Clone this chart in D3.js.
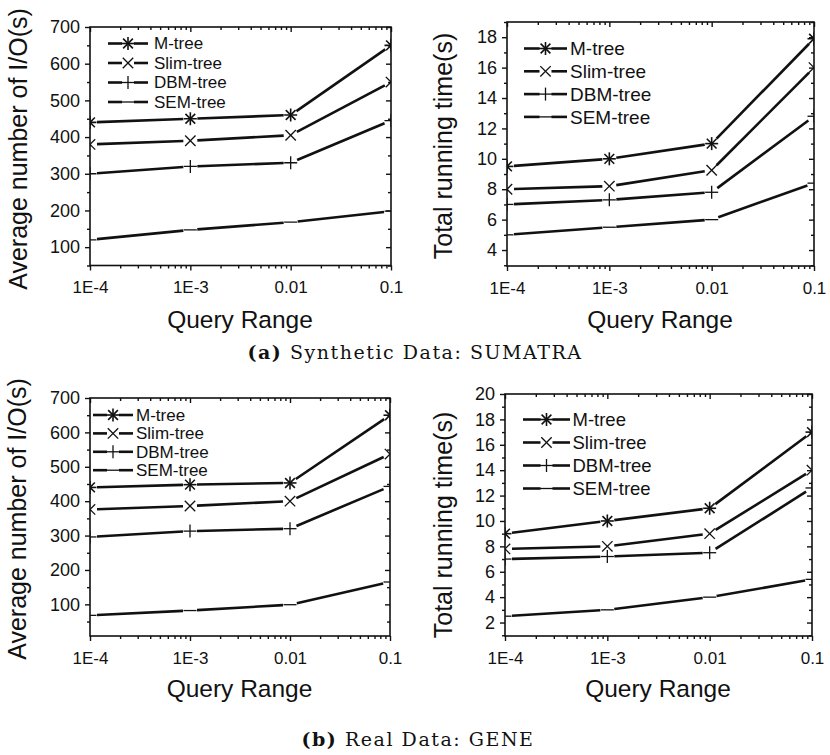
<!DOCTYPE html>
<html>
<head>
<meta charset="utf-8">
<script src="https://cdn.jsdelivr.net/npm/d3@7"></script>
<style>
  body { margin: 0; background: #fff; }
  text { font-family: "Liberation Sans", Arial, sans-serif; fill: #111; }
  text.cap { font-family: "DejaVu Serif", "Liberation Serif", serif; }
</style>
</head>
<body>
<svg id="fig" width="830" height="755"></svg>
<script>
// query ranges on the x axis (log scale) and their labels
const queryRanges = [1e-4, 1e-3, 1e-2, 1e-1];
const queryLabels = ["1E-4", "1E-3", "0.01", "0.1"];
const seriesNames = ["M-tree", "Slim-tree", "DBM-tree", "SEM-tree"];
const markerKinds = ["star", "cross", "plus", "dash"];

// (a) SUMATRA - average number of I/O(s)
const sumatraIO = [
  [440, 450, 460, 650],
  [380, 390, 405, 550],
  [300, 320, 330, 445],
  [120, 147, 168, 198]
];
// (a) SUMATRA - total running time(s)
const sumatraTime = [
  [9.5, 10, 11, 17.9],
  [8, 8.2, 9.25, 16],
  [7, 7.3, 7.8, 12.8],
  [5, 5.5, 6, 8.4]
];
// (b) GENE - average number of I/O(s)
const geneIO = [
  [440, 448, 453, 650],
  [376, 386, 400, 537],
  [296, 313, 320, 443],
  [68, 82, 99, 165]
];
// (b) GENE - total running time(s)
const geneTime = [
  [9, 10, 11, 17],
  [7.8, 8, 9, 14],
  [7, 7.2, 7.5, 12.6],
  [2.5, 3, 4, 5.4]
];

const ioTicks = [100, 200, 300, 400, 500, 600, 700];
const timeTicksA = [4, 6, 8, 10, 12, 14, 16, 18];
const timeTicksB = [2, 4, 6, 8, 10, 12, 14, 16, 18, 20];

const svg = d3.select("#fig");

// one entry per panel: data + where it sits on the page
const panels = [
  { data: sumatraIO, yDomain: [50, 700], yTicks: ioTicks, yMinor: 50, yLabel: "Average number of I/O(s)",
    box: [90, 391, 27, 265.5], yLabelX: 27, yLabelY: 149, xLabelY: 328,
    legend: { x0: 108, x1: 148, tx: 154, y0: 43.5, dy: 19.5, fs: 17 } },
  { data: sumatraTime, yDomain: [2.95, 19], yTicks: timeTicksA, yMinor: 1, yLabel: "Total running time(s)",
    box: [507, 814, 22, 266], yLabelX: 452, yLabelY: 146, xLabelY: 328,
    legend: { x0: 524, x1: 567, tx: 570, y0: 48.5, dy: 22.8, fs: 19 } },
  { data: geneIO, yDomain: [8, 700], yTicks: ioTicks, yMinor: 50, yLabel: "Average number of I/O(s)",
    box: [90, 390, 398, 636], yLabelX: 26, yLabelY: 519, xLabelY: 697,
    legend: { x0: 93, x1: 133, tx: 136, y0: 415, dy: 18.4, fs: 17 } },
  { data: geneTime, yDomain: [0.94, 20], yTicks: timeTicksB, yMinor: 1, yLabel: "Total running time(s)",
    box: [505, 812, 394, 636], yLabelX: 452, yLabelY: 525, xLabelY: 697,
    legend: { x0: 523, x1: 570, tx: 572.5, y0: 419.5, dy: 23, fs: 18.5 } }
];

// marker shapes drawn as small strokes around (0,0)
function drawMarker(g, kind, r) {
  const segs = [];
  if (kind === "star") {
    segs.push([-r, 0, r, 0], [0, -r, 0, r]);
    const a = r * 0.75;
    segs.push([-a, -a, a, a], [-a, a, a, -a]);
  } else if (kind === "cross") {
    const a = r * 0.8;
    segs.push([-a, -a, a, a], [-a, a, a, -a]);
  } else if (kind === "plus") {
    segs.push([-r, 0, r, 0], [0, -r, 0, r]);
  } else {
    segs.push([-r, 0, r, 0]);
  }
  g.selectAll("line.mk").data(segs).enter().append("line")
    .attr("class", "mk")
    .attr("x1", d => d[0]).attr("y1", d => d[1])
    .attr("x2", d => d[2]).attr("y2", d => d[3])
    .attr("stroke", "#111")
    .attr("stroke-width", kind === "star" ? 1.6 : 1.3);
}

// minor ticks for the log axis (2..9 in each decade)
const logMinor = [];
[1e-4, 1e-3, 1e-2].forEach(d => { for (let k = 2; k <= 9; k++) logMinor.push(d * k); });

panels.forEach((p, pi) => {
  const [L, R, T, B] = p.box;
  const x = d3.scaleLog().domain([1e-4, 1e-1]).range([L, R]);
  const y = d3.scaleLinear().domain(p.yDomain).range([B, T]);
  const g = svg.append("g");

  const clipId = "clip" + pi;
  svg.append("clipPath").attr("id", clipId)
    .append("rect").attr("x", L).attr("y", T).attr("width", R - L).attr("height", B - T);

  const yMinorVals = d3.range(Math.ceil(p.yDomain[0] / p.yMinor) * p.yMinor, p.yDomain[1] + 0.001, p.yMinor)
    .filter(v => !p.yTicks.includes(v));

  // bottom axis
  g.append("g").attr("transform", `translate(0,${B})`)
    .call(d3.axisBottom(x).tickValues(queryRanges).tickFormat((d, i) => queryLabels[i]).tickSize(5).tickPadding(10.5))
    .call(a => a.selectAll("text").attr("font-size", 17).attr("fill", "#111"));
  g.append("g").attr("transform", `translate(0,${B})`)
    .call(d3.axisBottom(x).tickValues(logMinor).tickFormat("").tickSize(3));
  // top axis, ticks pointing in
  g.append("g").attr("transform", `translate(0,${T})`)
    .call(d3.axisTop(x).tickValues(queryRanges).tickFormat("").tickSize(-5));
  g.append("g").attr("transform", `translate(0,${T})`)
    .call(d3.axisTop(x).tickValues(logMinor).tickFormat("").tickSize(-3));
  // left axis
  g.append("g").attr("transform", `translate(${L},0)`)
    .call(d3.axisLeft(y).tickValues(p.yTicks).tickSize(5).tickPadding(5))
    .call(a => a.selectAll("text").attr("font-size", 18).attr("fill", "#111"));
  g.append("g").attr("transform", `translate(${L},0)`)
    .call(d3.axisLeft(y).tickValues(yMinorVals).tickFormat("").tickSize(3));
  // right axis, ticks pointing in
  g.append("g").attr("transform", `translate(${R},0)`)
    .call(d3.axisRight(y).tickValues(p.yTicks).tickFormat("").tickSize(-5));
  g.append("g").attr("transform", `translate(${R},0)`)
    .call(d3.axisRight(y).tickValues(yMinorVals).tickFormat("").tickSize(-3));

  g.selectAll(".domain").remove();
  g.selectAll(".tick line").attr("stroke", "#111").attr("stroke-width", 1.4);

  g.append("rect").attr("x", L).attr("y", T).attr("width", R - L).attr("height", B - T)
    .attr("fill", "none").attr("stroke", "#111").attr("stroke-width", 1.6);

  // series: thick segments with a small gap at every point, then the markers
  const gap = 7;
  const plot = g.append("g").attr("clip-path", `url(#${clipId})`);
  p.data.forEach((vals, si) => {
    const pts = vals.map((v, i) => [x(queryRanges[i]), y(v)]);
    const segs = d3.pairs(pts).map(([a, b]) => {
      const dx = b[0] - a[0], dy = b[1] - a[1], len = Math.hypot(dx, dy);
      const ux = dx / len, uy = dy / len;
      return [a[0] + ux * gap, a[1] + uy * gap, b[0] - ux * gap, b[1] - uy * gap];
    });
    plot.selectAll(null).data(segs).enter().append("line")
      .attr("x1", d => d[0]).attr("y1", d => d[1])
      .attr("x2", d => d[2]).attr("y2", d => d[3])
      .attr("stroke", "#111").attr("stroke-width", 2.6);
    pts.forEach(pt => {
      drawMarker(plot.append("g").attr("transform", `translate(${pt[0]},${pt[1]})`), markerKinds[si], 6.5);
    });
  });

  // legend
  const lg = p.legend;
  seriesNames.forEach((name, si) => {
    const yy = lg.y0 + si * lg.dy;
    const mx = (lg.x0 + lg.x1) / 2;
    g.append("line").attr("x1", lg.x0).attr("x2", mx - 6).attr("y1", yy).attr("y2", yy)
      .attr("stroke", "#111").attr("stroke-width", 2.6);
    g.append("line").attr("x1", mx + 6).attr("x2", lg.x1).attr("y1", yy).attr("y2", yy)
      .attr("stroke", "#111").attr("stroke-width", 2.6);
    drawMarker(g.append("g").attr("transform", `translate(${mx},${yy})`), markerKinds[si], 6.5);
    g.append("text").attr("x", lg.tx).attr("y", yy).attr("dy", "0.35em")
      .attr("font-size", lg.fs).text(name);
  });

  // axis titles
  g.append("text")
    .attr("transform", `translate(${p.yLabelX},${p.yLabelY}) rotate(-90)`)
    .attr("text-anchor", "middle").attr("font-size", 25).text(p.yLabel);
  g.append("text")
    .attr("x", (L + R) / 2 - 0.5).attr("y", p.xLabelY)
    .attr("text-anchor", "middle").attr("font-size", 24.5).text("Query Range");
});

// sub-figure captions (fitted to the width of the LaTeX originals)
const captions = [
  { bold: "(a)", rest: " Synthetic Data: SUMATRA", x: 415, y: 359, width: 335 },
  { bold: "(b)", rest: " Real Data: GENE", x: 418, y: 746, width: 233 }
];
captions.forEach(c => {
  const t = svg.append("text").attr("class", "cap")
    .attr("x", c.x).attr("y", c.y).attr("text-anchor", "middle").attr("font-size", 19);
  t.append("tspan").attr("font-weight", "bold").text(c.bold);
  t.append("tspan").text(c.rest);
  const n = (c.bold + c.rest).length;
  const extra = (c.width - t.node().getComputedTextLength()) / n;
  t.attr("letter-spacing", extra.toFixed(2));
});
</script>
</body>
</html>
